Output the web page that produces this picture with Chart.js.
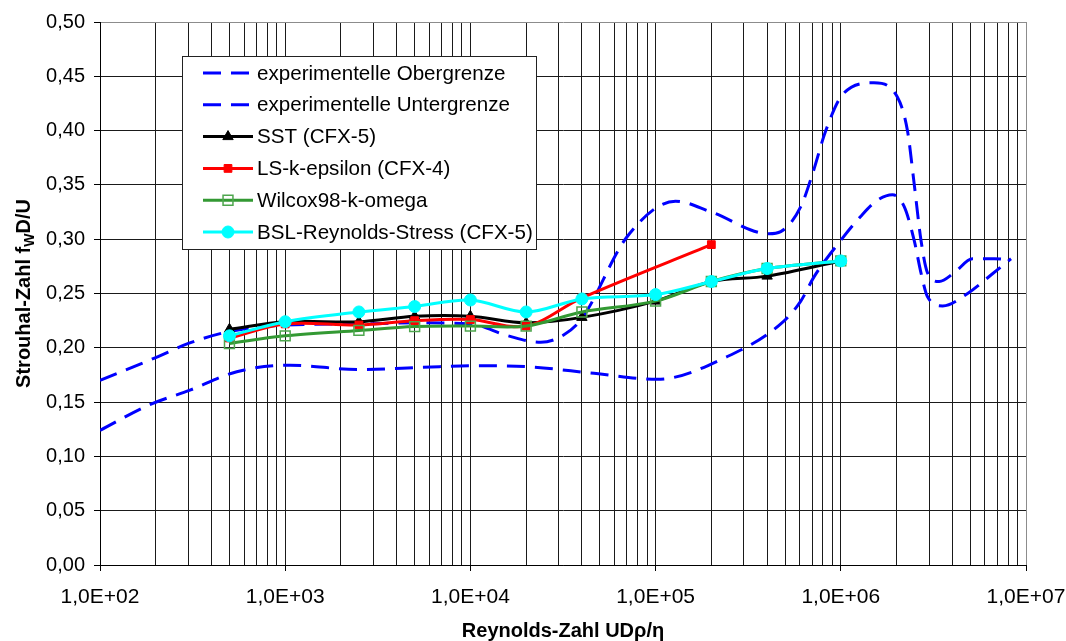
<!DOCTYPE html>
<html>
<head>
<meta charset="utf-8">
<script src="https://cdn.jsdelivr.net/npm/chart.js@4.4.1/dist/chart.umd.min.js"></script>
<style>
  html, body { margin: 0; background: #fff; }
  #wrap { width: 1066px; height: 641px; }
</style>
</head>
<body>
<div id="wrap"><canvas id="strouhal" width="1066" height="641"></canvas></div>
<script>
// Reynolds numbers of the simulations
const reSim = [5e2, 1e3, 2.5e3, 5e3, 1e4, 2e4, 4e4, 1e5, 2e5, 4e5, 1e6];
const reLS = [5e2, 1e3, 2.5e3, 5e3, 1e4, 2e4, 4e4, 2e5];

// Strouhal numbers
const stSST = [0.217, 0.224, 0.224, 0.229, 0.229, 0.223, 0.228, 0.243, 0.261, 0.266, 0.280];
const stLS = [0.209, 0.222, 0.221, 0.225, 0.226, 0.220, 0.246, 0.295];
const stWilcox = [0.204, 0.211, 0.216, 0.2195, 0.220, 0.220, 0.233, 0.243, 0.261, 0.273, 0.280];
const stBSL = [0.211, 0.224, 0.233, 0.238, 0.244, 0.233, 0.245, 0.249, 0.261, 0.273, 0.280];

// experimental bounds
const reUpper = [100, 200, 300, 500, 1000, 2500, 5000, 10000, 16000, 24000, 32000, 40000, 70000, 128000,
  200000, 408000, 474000, 608000, 703000, 830000, 1020000, 1510000, 2020000, 2290000, 2490000, 2710000,
  2940000, 3400000, 4090000, 5140000, 6740000, 8130000];
const stUpper = [0.170, 0.191, 0.204, 0.215, 0.221, 0.222, 0.223, 0.222, 0.211, 0.205, 0.212, 0.227, 0.302, 0.335,
  0.325, 0.305, 0.307, 0.330, 0.360, 0.400, 0.433, 0.444, 0.431, 0.400, 0.351, 0.299,
  0.269, 0.261, 0.269, 0.282, 0.282, 0.281];
const reLower = [100, 182, 306, 548, 1065, 2440, 5570, 10000, 20200, 46500, 102000, 244000, 474000, 608000,
  718000, 1000000, 1280000, 1580000, 1900000, 2200000, 2490000, 2710000, 2940000, 3550000, 4840000, 6470000, 8300000];
const stLower = [0.124, 0.147, 0.161, 0.178, 0.184, 0.180, 0.182, 0.1835, 0.1826, 0.1765, 0.171, 0.192, 0.222, 0.243,
  0.2655, 0.299, 0.321, 0.336, 0.341, 0.330, 0.299, 0.269, 0.247, 0.2385, 0.250, 0.267, 0.282];

// axes
const reMajor = [1e2, 1e3, 1e4, 1e5, 1e6, 1e7];
const reTickLabels = ['1,0E+02', '1,0E+03', '1,0E+04', '1,0E+05', '1,0E+06', '1,0E+07'];
const stTicks = [0, 0.05, 0.10, 0.15, 0.20, 0.25, 0.30, 0.35, 0.40, 0.45, 0.50];
const stTickLabels = ['0,00', '0,05', '0,10', '0,15', '0,20', '0,25', '0,30', '0,35', '0,40', '0,45', '0,50'];

const xTitle = 'Reynolds-Zahl UDρ/η';
const yTitleParts = [['Strouhal-Zahl f', false], ['W', true], ['D/U', false]];

const FONT = "'Liberation Sans', Arial, sans-serif";
const pts = (xs, ys) => xs.map((x, i) => ({ x: x, y: ys[i] }));

Chart.defaults.font.family = FONT;
Chart.defaults.font.size = 20;
Chart.defaults.color = '#000';

// legend drawn inside the plot area like the original
const boxLegend = {
  id: 'boxLegend',
  afterDraw(chart) {
    const ctx = chart.ctx;
    const L = 182, T = 56, W = 354, H = 193;
    ctx.save();
    ctx.fillStyle = '#fff';
    ctx.fillRect(L, T, W, H);
    ctx.strokeStyle = '#222';
    ctx.lineWidth = 1;
    ctx.strokeRect(L + 0.5, T + 0.5, W, H);
    chart.data.datasets.forEach((ds, i) => {
      const y = 73 + i * 31.8;
      ctx.save();
      ctx.strokeStyle = ds.borderColor;
      ctx.lineWidth = ds.borderWidth;
      ctx.setLineDash(ds.borderDash || []);
      ctx.beginPath();
      ctx.moveTo(203, y);
      ctx.lineTo(253, y);
      ctx.stroke();
      ctx.restore();
      if (ds.pointRadius > 0) {
        ctx.save();
        ctx.fillStyle = ds.pointBackgroundColor;
        ctx.strokeStyle = ds.pointBorderColor;
        ctx.lineWidth = ds.pointBorderWidth || 1;
        Chart.helpers.drawPoint(ctx, { pointStyle: ds.pointStyle, radius: ds.pointRadius, borderWidth: ds.pointBorderWidth || 1, rotation: 0 }, 228, y);
        ctx.restore();
      }
      ctx.fillStyle = '#000';
      ctx.font = '20.6px ' + FONT;
      ctx.textBaseline = 'middle';
      ctx.textAlign = 'left';
      ctx.fillText(ds.label, 257, y + 1);
    });
    ctx.restore();
  }
};

// y title with subscript W
const yTitle = {
  id: 'yTitle',
  afterDraw(chart) {
    const ctx = chart.ctx;
    const ca = chart.chartArea;
    const big = 'bold 20px ' + FONT, small = 'bold 14px ' + FONT;
    ctx.save();
    ctx.translate(23, (ca.top + ca.bottom) / 2);
    ctx.rotate(-Math.PI / 2);
    ctx.fillStyle = '#000';
    ctx.textBaseline = 'alphabetic';
    ctx.textAlign = 'left';
    let total = 0;
    yTitleParts.forEach(([t, sub]) => { ctx.font = sub ? small : big; total += ctx.measureText(t).width; });
    let x = -total / 2;
    yTitleParts.forEach(([t, sub]) => {
      ctx.font = sub ? small : big;
      ctx.fillText(t, x, sub ? 11 : 7);
      x += ctx.measureText(t).width;
    });
    ctx.restore();
  }
};

new Chart(document.getElementById('strouhal'), {
  type: 'line',
  data: {
    datasets: [
      {
        label: 'experimentelle Obergrenze', data: pts(reUpper, stUpper),
        borderColor: '#0000ff', borderWidth: 3, borderDash: [18, 10], pointRadius: 0,
        cubicInterpolationMode: 'monotone', order: 6
      },
      {
        label: 'experimentelle Untergrenze', data: pts(reLower, stLower),
        borderColor: '#0000ff', borderWidth: 3, borderDash: [18, 10], pointRadius: 0,
        cubicInterpolationMode: 'monotone', order: 5
      },
      {
        label: 'SST (CFX-5)', data: pts(reSim, stSST),
        borderColor: '#000', borderWidth: 3, tension: 0.33,
        pointStyle: 'triangle', pointRadius: 6, pointBackgroundColor: '#000', pointBorderColor: '#000', pointBorderWidth: 1,
        order: 4
      },
      {
        label: 'LS-k-epsilon (CFX-4)', data: pts(reLS, stLS),
        borderColor: '#ff0000', borderWidth: 3, tension: 0.33,
        pointStyle: 'rect', pointRadius: 5.5, pointBackgroundColor: '#ff0000', pointBorderColor: '#ff0000', pointBorderWidth: 1,
        order: 3
      },
      {
        label: 'Wilcox98-k-omega', data: pts(reSim, stWilcox),
        borderColor: '#339933', borderWidth: 3, tension: 0.33,
        pointStyle: 'rect', pointRadius: 7, pointBackgroundColor: 'rgba(255,255,255,0)', pointBorderColor: '#4ea64e', pointBorderWidth: 1.5,
        order: 2
      },
      {
        label: 'BSL-Reynolds-Stress (CFX-5)', data: pts(reSim, stBSL),
        borderColor: '#00ffff', borderWidth: 3, tension: 0.33,
        pointStyle: 'circle', pointRadius: 6, pointBackgroundColor: '#00ffff', pointBorderColor: '#00ffff', pointBorderWidth: 1,
        order: 1
      }
    ]
  },
  options: {
    responsive: false,
    devicePixelRatio: 1,
    animation: false,
    layout: { padding: { top: 22, right: 40, left: 0, bottom: 0 } },
    plugins: { legend: { display: false }, tooltip: { enabled: false } },
    scales: {
      x: {
        type: 'logarithmic', min: 1e2, max: 1e7,
        afterFit: s => { s.height = 76; s.paddingLeft = 0; s.paddingRight = 0; },
        afterBuildTicks: s => {
          const t = [];
          reMajor.forEach((d, i) => {
            if (i === reMajor.length - 1) { t.push({ value: d }); return; }
            for (let m = 1; m < 10; m++) t.push({ value: d * m });
          });
          s.ticks = t;
        },
        ticks: {
          autoSkip: false, maxRotation: 0, minRotation: 0, padding: 14, font: { size: 21 },
          callback: v => { const i = reMajor.indexOf(v); return i >= 0 ? reTickLabels[i] : ''; }
        },
        grid: {
          color: c => (c.tick && c.tick.value === 1e7 ? '#8c8c8c' : '#1a1a1a'),
          lineWidth: 1, tickLength: 6,
          tickColor: c => (c.tick && reMajor.indexOf(c.tick.value) >= 0 ? '#000' : 'rgba(0,0,0,0)')
        },
        border: { color: '#000', width: 1 },
        title: { display: true, text: xTitle, font: { size: 20, weight: 'bold', lineHeight: 1 }, padding: 0 }
      },
      y: {
        min: 0, max: 0.5,
        afterFit: s => { s.width = 100; s.paddingTop = 0; s.paddingBottom = 0; },
        afterBuildTicks: s => { s.ticks = stTicks.map(v => ({ value: v })); },
        ticks: { padding: 9, callback: (v, i) => stTickLabels[i] },
        grid: {
          color: c => (c.tick && c.tick.value === 0.5 ? '#8c8c8c' : '#1a1a1a'),
          lineWidth: 1, tickLength: 6, tickColor: '#000'
        },
        border: { color: '#000', width: 1 }
      }
    }
  },
  plugins: [boxLegend, yTitle]
});
</script>
</body>
</html>
